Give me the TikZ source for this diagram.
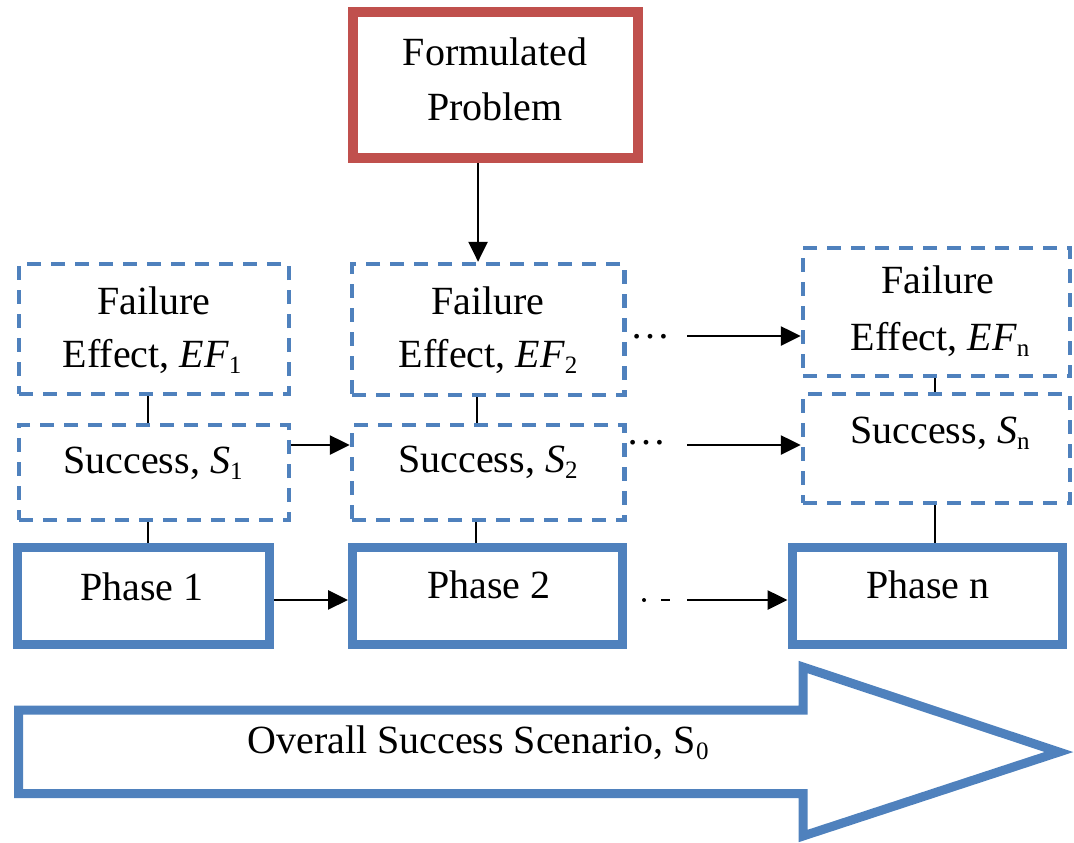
\documentclass[tikz,border=0pt]{standalone}
\usepackage{fontspec}
\setmainfont{Liberation Serif}
\usetikzlibrary{arrows.meta}
\definecolor{boxblue}{HTML}{4F81BD}
\definecolor{boxred}{HTML}{C0504D}
\newcommand\lowsub[1]{\raisebox{-3pt}{\fontsize{12.5}{12.5}\selectfont #1}}
\begin{document}
\begin{tikzpicture}[x=0.5pt,y=-0.5pt,
  phasebox/.style={draw=boxblue,line width=4.5pt,inner sep=0pt},
  dashbox/.style={draw=boxblue,line width=2.25pt,dash pattern=on 7pt off 5pt,inner sep=0pt},
  probbox/.style={draw=boxred,line width=5pt,inner sep=0pt},
  txt/.style={inner sep=0pt,anchor=base,font=\fontsize{20}{24}\selectfont},
  dotstxt/.style={inner sep=0pt,anchor=center,font=\fontsize{20}{24}\selectfont},
  arr/.style={-{Triangle[length=10pt,width=9.5pt]},line width=1.3pt},
  link/.style={line width=1.2pt}]
\useasboundingbox (0,0) rectangle (1074,842);

% boxes
\node[probbox,minimum width=142.75pt,minimum height=73pt] (fp) at (495.25,85) {};
\node[dashbox,minimum width=135pt,minimum height=65pt] (fe1) at (154,329) {};
\node[dashbox,minimum width=135pt,minimum height=47.5pt] (s1) at (154,472.5) {};
\node[phasebox,minimum width=126pt,minimum height=48.25pt] (p1) at (143.5,595.75) {};
\node[dashbox,minimum width=136.25pt,minimum height=65.5pt] (fe2) at (488.25,329.5) {};
\node[dashbox,minimum width=136.25pt,minimum height=47.5pt] (s2) at (488.25,472.5) {};
\node[phasebox,minimum width=135pt,minimum height=48.25pt] (p2) at (487.5,595.75) {};
\node[dashbox,minimum width=133.5pt,minimum height=64pt] (fen) at (936.5,312) {};
\node[dashbox,minimum width=133.5pt,minimum height=54.5pt] (sn) at (936.5,448.5) {};
\node[phasebox,minimum width=135.25pt,minimum height=48.25pt] (pn) at (927.25,595.75) {};

% texts
\node[txt] (fpa) at (495,65) {Formulated};
\node[txt] (fpb) at (495,120) {Problem};
\node[txt] (fe1a) at (154,314) {Failure};
\node[txt] (fe1b) at (152,367) {Effect, \textit{EF}\lowsub{1}};
\node[txt] (s1t) at (153,473) {Success, \textit{S}\lowsub{1}};
\node[txt] (p1t) at (142,600) {Phase 1};
\node[txt] (fe2a) at (488,314) {Failure};
\node[txt] (fe2b) at (488,367) {Effect, \textit{EF}\lowsub{2}};
\node[txt] (s2t) at (488,472) {Success, \textit{S}\lowsub{2}};
\node[txt] (p2t) at (489,598) {Phase 2};
\node[txt] (fena) at (938,293) {Failure};
\node[txt] (fenb) at (940,350) {Effect, \textit{EF}\lowsub{n}};
\node[txt] (snt) at (940,443) {Success, \textit{S}\lowsub{n}};
\node[txt] (pnt) at (928,598) {Phase n};

% vertical links
\draw[arr] ([xshift=-8.6pt]fp.south) -- ([xshift=-8.6pt]fp.south |- fe2.north);
\draw[link] ([xshift=-3pt]fe1.south) -- ([xshift=-3pt]fe1.south |- s1.north);
\draw[link] ([xshift=-3pt]s1.south) -- ([xshift=-3pt]s1.south |- p1.north);
\draw[link] ([xshift=-5.6pt]fe2.south) -- ([xshift=-5.6pt]fe2.south |- s2.north);
\draw[link] ([xshift=-6pt]s2.south) -- ([xshift=-6pt]s2.south |- p2.north);
\draw[link] ([xshift=-0.75pt]fen.south) -- ([xshift=-0.75pt]fen.south |- sn.north);
\draw[link] ([xshift=-0.75pt]sn.south) -- ([xshift=-0.75pt]sn.south |- pn.north);

% horizontal arrows
\draw[arr] ([yshift=13.75pt]s1.east) -- ([yshift=13.75pt]s1.east -| s2.west);
\draw[arr] ([yshift=-2.1pt]p1.east) -- ([yshift=-2.1pt]p1.east -| p2.west);
\node[dotstxt] (dots1) at (650,337) {\textellipsis};
\node[dotstxt] (dots2) at (646,443) {\textellipsis};
\coordinate (a1) at (687,336);
\coordinate (a2) at (687,445);
\coordinate (a3) at (687,600);
\draw[arr] (a1) -- (a1 -| fen.west);
\draw[arr] (a2) -- (a2 -| sn.west);
\draw[arr] (a3) -- (a3 -| pn.west);
\fill (644,600) circle (1pt);
\draw[link] (661,600) -- (670,600);

% overall arrow
\draw[draw=boxblue,line width=4.5pt,line join=miter]
  (18.5,710) -- (803,710) -- (803,667) -- (1059,752) -- (803,836) -- (803,793.5) -- (18.5,793.5) -- cycle;
\node[txt] (overall) at (478,753) {Overall Success Scenario, S\lowsub{0}};
\end{tikzpicture}
\end{document}
